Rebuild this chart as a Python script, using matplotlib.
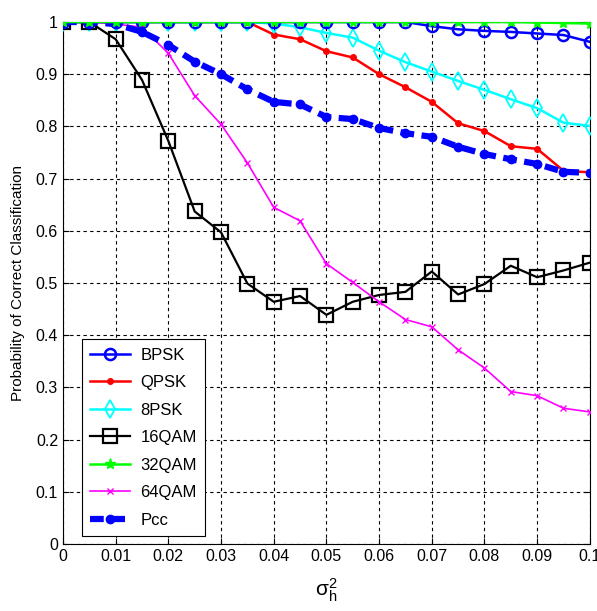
import matplotlib
matplotlib.use("Agg")
import matplotlib.pyplot as plt
import numpy as np

x = [0, 0.005, 0.01, 0.015, 0.02, 0.025, 0.03, 0.035, 0.04, 0.045, 0.05,
     0.055, 0.06, 0.065, 0.07, 0.075, 0.08, 0.085, 0.09, 0.095, 0.1]

bpsk = [1, 1, 1, 1, 1, 1, 1, 1, 1, 1, 1,
        1, 1, 1, 0.992, 0.986, 0.983, 0.981, 0.978, 0.975, 0.962]
qpsk = [1, 1, 1, 1, 1, 1, 1, 1, 0.976, 0.967, 0.944,
        0.932, 0.900, 0.875, 0.847, 0.806, 0.791, 0.762, 0.757, 0.715, 0.712]
psk8 = [1, 1, 1, 1, 1, 1, 1, 1, 0.997, 0.99, 0.979,
        0.970, 0.945, 0.923, 0.905, 0.887, 0.870, 0.852, 0.835, 0.807, 0.801]
qam16 = [1, 1, 0.967, 0.889, 0.772, 0.637, 0.597, 0.499, 0.464, 0.475, 0.439,
         0.464, 0.477, 0.483, 0.522, 0.478, 0.498, 0.533, 0.511, 0.524, 0.539]
qam32 = [1, 1, 1, 1, 1, 1, 1, 1, 1, 1, 1,
         1, 1, 1, 1, 1, 1, 1, 0.999, 0.998, 0.997]
qam64 = [1, 1, 0.996, 0.99, 0.94, 0.859, 0.804, 0.730, 0.645, 0.619, 0.537,
         0.501, 0.464, 0.430, 0.416, 0.372, 0.337, 0.292, 0.284, 0.260, 0.253]
pcc = [1, 1, 0.996, 0.981, 0.956, 0.924, 0.900, 0.871, 0.847, 0.842, 0.818,
       0.814, 0.797, 0.787, 0.780, 0.761, 0.747, 0.737, 0.728, 0.713, 0.711]

xticks = [0, 0.01, 0.02, 0.03, 0.04, 0.05, 0.06, 0.07, 0.08, 0.09, 0.1]
xticklabels = ["0", "0.01", "0.02", "0.03", "0.04", "0.05", "0.06", "0.07", "0.08", "0.09", "0.1"]
yticks = [0, 0.1, 0.2, 0.3, 0.4, 0.5, 0.6, 0.7, 0.8, 0.9, 1]
yticklabels = ["0", "0.1", "0.2", "0.3", "0.4", "0.5", "0.6", "0.7", "0.8", "0.9", "1"]

plt.rcParams['font.family'] = ['Liberation Sans', 'DejaVu Sans']

fig = plt.figure(figsize=(5.97, 6.11), dpi=100)
ax = fig.add_axes([0.1055, 0.1097, 0.8825, 0.8543])

ax.plot(x, bpsk, color='#0000ff', lw=1.8, marker='o', ms=8, mfc='none', mew=1.8, label='BPSK', zorder=5)
ax.plot(x, qpsk, color='#ff0000', lw=1.8, marker='.', ms=8, label='QPSK', zorder=4)
ax.plot(x, psk8, color='#00ffff', lw=1.8, marker='d', ms=9, mfc='none', mew=1.3, label='8PSK', zorder=4)
ax.plot(x, qam16, color='black', lw=1.6, marker='s', ms=10, mfc='none', mew=1.6, label='16QAM', zorder=4)
ax.plot(x, qam32, color='#00ff00', lw=1.8, marker='*', ms=8, label='32QAM', zorder=6)
ax.plot(x, qam64, color='#ff00ff', lw=1.2, marker='x', ms=5, label='64QAM', zorder=4)
ax.plot(x, pcc, color='#0000ff', lw=4.5, ls=(0, (2.2, 1.2)), marker='o', ms=6, label='Pcc', zorder=5)

ax.set_xlim(0, 0.1)
ax.set_ylim(0, 1)
ax.set_xticks(xticks)
ax.set_xticklabels(xticklabels)
ax.set_yticks(yticks)
ax.set_yticklabels(yticklabels)
ax.tick_params(direction='in', labelsize=11.5, length=4, top=True, right=True)
ax.grid(True, color='black', ls=(0, (3, 3)), lw=0.8)
for s in ax.spines.values():
    s.set_linewidth(0.8)

ax.set_xlabel(r'$\mathregular{\sigma_h^2}$', fontsize=15, labelpad=9)
ax.set_ylabel('Probability of Correct Classification', fontsize=11, labelpad=8)

leg = ax.legend(loc='lower left', bbox_to_anchor=(0.036, 0.015), borderaxespad=0,
                fontsize=12, fancybox=False, framealpha=1, edgecolor='black',
                handlelength=2.4, handletextpad=0.6, borderpad=0.5, labelspacing=0.75)
leg.get_frame().set_linewidth(0.8)

fig.savefig('out.png', dpi=100)
